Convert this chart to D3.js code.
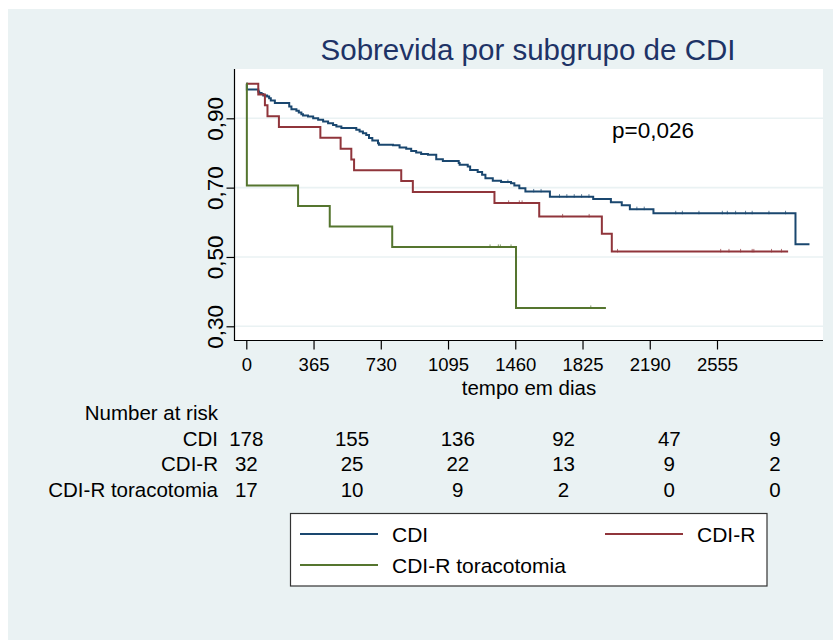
<!DOCTYPE html>
<html>
<head>
<meta charset="utf-8">
<script src="https://cdn.jsdelivr.net/npm/d3@7"></script>
<style>
  html, body { margin: 0; padding: 0; background: #ffffff; }
  svg { display: block; }
  text { font-family: "Liberation Sans", Arial, Helvetica, sans-serif; }
</style>
</head>
<body>
<div id="chart"></div>
<script>
// ---------------- DATA ----------------
const seriesNames = ["CDI", "CDI-R", "CDI-R toracotomia"];

// Kaplan-Meier steps: time (days) where survival changes, and new survival
const cdiTime = [0, 3, 65, 70, 83, 92, 113, 124, 133, 155, 233, 245, 272, 285, 299, 308, 335, 363, 390, 417, 444, 471, 489, 516, 597, 615, 633, 651, 666, 684, 715, 720, 796, 832, 868, 895, 922, 949, 986, 1031, 1067, 1153, 1158, 1202, 1215, 1256, 1280, 1298, 1338, 1383, 1437, 1455, 1482, 1515, 1648, 1883, 1979, 2038, 2082, 2210, 2981];
const cdiSurv = [1, 0.983, 0.977, 0.973, 0.970, 0.966, 0.963, 0.958, 0.951, 0.944, 0.934, 0.926, 0.922, 0.917, 0.912, 0.908, 0.905, 0.900, 0.896, 0.891, 0.886, 0.881, 0.876, 0.872, 0.867, 0.862, 0.857, 0.852, 0.843, 0.836, 0.828, 0.824, 0.822, 0.816, 0.812, 0.806, 0.801, 0.797, 0.795, 0.782, 0.777, 0.771, 0.766, 0.761, 0.751, 0.745, 0.737, 0.727, 0.720, 0.716, 0.713, 0.706, 0.698, 0.689, 0.674, 0.667, 0.658, 0.649, 0.638, 0.626, 0.537];
const cdiEnd = 3057;
const cdiCensor = [1420, 1560, 1600, 1700, 1740, 1780, 1820, 1860, 2120, 2160, 2331, 2367, 2457, 2584, 2611, 2656, 2710, 2746, 2837, 2927];

const cdirTime = [0, 65, 101, 115, 177, 402, 512, 570, 585, 841, 904, 1347, 1590, 1930, 1984];
const cdirSurv = [1, 0.969, 0.938, 0.906, 0.875, 0.844, 0.8125, 0.781, 0.750, 0.719, 0.6875, 0.656, 0.617, 0.567, 0.516];
const cdirEnd = 2941;
const cdirCensor = [1424, 1482, 1497, 1717, 1861, 2015, 2575, 2620, 2683, 2746, 2755, 2851, 2905];

const torTime = [0, 3, 281, 453, 792, 1464];
const torSurv = [1, 0.706, 0.647, 0.588, 0.529, 0.353];
const torEnd = 1952;
const torCensor = [1323, 1368, 1379, 1437, 1870];

const xTicks = [0, 365, 730, 1095, 1460, 1825, 2190, 2555];
const yTicks = [0.30, 0.50, 0.70, 0.90];
const yTickLabels = ["0,30", "0,50", "0,70", "0,90"];

const riskTimes = [0, 574, 1148, 1722, 2296, 2870];
const riskCDI = [178, 155, 136, 92, 47, 9];
const riskCDIR = [32, 25, 22, 13, 9, 2];
const riskTor = [17, 10, 9, 2, 0, 0];

const colors = ["#1a476f", "#90353b", "#55752f"];
const titleText = "Sobrevida por subgrupo de CDI";
const xLabel = "tempo em dias";
const pText = "p=0,026";

// ---------------- DRAW ----------------
const W = 833, H = 640;
const svg = d3.select("#chart").append("svg").attr("width", W).attr("height", H);

svg.append("rect").attr("x", 0).attr("y", 0).attr("width", W).attr("height", H).attr("fill", "#ffffff");
svg.append("rect").attr("x", 8).attr("y", 9).attr("width", W - 8).attr("height", H - 9).attr("fill", "#eaf2f3");

const plot = { left: 234, right: 823, top: 69, bottom: 340 };
svg.append("rect").attr("x", plot.left).attr("y", plot.top)
  .attr("width", plot.right - plot.left).attr("height", plot.bottom - plot.top).attr("fill", "#ffffff");

const x = d3.scaleLinear().domain([0, 2555]).range([246.3, 717]);
const y = d3.scaleLinear().domain([0.3, 0.9]).range([326.3, 118.3]);

// gridlines
svg.append("g").selectAll("line").data(yTicks).join("line")
  .attr("x1", plot.left).attr("x2", plot.right)
  .attr("y1", d => y(d)).attr("y2", d => y(d))
  .attr("stroke", "#eaf2f3").attr("stroke-width", 1.6);

// axes
const yAxis = d3.axisLeft(y).tickValues(yTicks).tickSize(8).tickFormat((d, i) => yTickLabels[i]);
const gy = svg.append("g").attr("transform", `translate(${plot.left + 0.5},0)`).call(yAxis);
gy.select(".domain").remove();
gy.selectAll(".tick line").attr("stroke", "#000").attr("stroke-width", 1.2);
gy.selectAll(".tick text")
  .attr("font-size", 22.5).attr("fill", "#000")
  .attr("text-anchor", "middle")
  .attr("x", 0).attr("dy", 0)
  .attr("transform", "translate(-12,0) rotate(-90)")
  .attr("y", 0);
svg.append("line").attr("x1", plot.left + 0.5).attr("x2", plot.left + 0.5)
  .attr("y1", plot.top).attr("y2", plot.bottom + 1).attr("stroke", "#000").attr("stroke-width", 1.2);

const xAxis = d3.axisBottom(x).tickValues(xTicks).tickSize(9).tickFormat(d3.format("d"));
const gx = svg.append("g").attr("transform", `translate(0,${plot.bottom + 0.5})`).call(xAxis);
gx.select(".domain").remove();
gx.selectAll(".tick line").attr("stroke", "#000").attr("stroke-width", 1.2);
gx.selectAll(".tick text").attr("font-size", 18.5).attr("fill", "#000").attr("y", 0).attr("dy", "30");
svg.append("line").attr("x1", plot.left).attr("x2", plot.right)
  .attr("y1", plot.bottom + 0.5).attr("y2", plot.bottom + 0.5).attr("stroke", "#000").attr("stroke-width", 1.2);

// curves
function stepPoints(times, surv, end) {
  const pts = times.map((t, i) => [t, surv[i]]);
  pts.push([end, surv[surv.length - 1]]);
  return pts;
}
function survAt(times, surv, t) {
  let v = surv[0];
  for (let i = 0; i < times.length; i++) { if (times[i] <= t) v = surv[i]; }
  return v;
}
const line = d3.line().x(d => x(d[0])).y(d => y(d[1])).curve(d3.curveStepAfter);
const curves = [
  { t: cdiTime, s: cdiSurv, e: cdiEnd, c: cdiCensor },
  { t: cdirTime, s: cdirSurv, e: cdirEnd, c: cdirCensor },
  { t: torTime, s: torSurv, e: torEnd, c: torCensor }
];
const gc = svg.append("g");
curves.forEach((cv, i) => {
  gc.append("path").datum(stepPoints(cv.t, cv.s, cv.e))
    .attr("d", line).attr("fill", "none")
    .attr("stroke", colors[i]).attr("stroke-width", 2).attr("stroke-linejoin", "miter");
  gc.append("g").selectAll("line").data(cv.c).join("line")
    .attr("x1", d => x(d)).attr("x2", d => x(d))
    .attr("y1", d => y(survAt(cv.t, cv.s, d)) - 2.5)
    .attr("y2", d => y(survAt(cv.t, cv.s, d)) + 1)
    .attr("stroke", colors[i]).attr("stroke-width", 1).attr("opacity", 0.7);
});

// title
svg.append("text").attr("x", 528).attr("y", 60).attr("text-anchor", "middle")
  .attr("font-size", 29.5).attr("fill", "#1e3366").text(titleText);

// p value
svg.append("text").attr("x", 612).attr("y", 138).attr("font-size", 22.5).attr("fill", "#000").text(pText);

// x label
svg.append("text").attr("x", 529).attr("y", 395).attr("text-anchor", "middle")
  .attr("font-size", 20.5).attr("fill", "#000").text(xLabel);

// risk table
const riskRows = [riskCDI, riskCDIR, riskTor];
const rowY = [446, 471, 497];
const riskFont = 20.5;
svg.append("text").attr("x", 218).attr("y", 420).attr("text-anchor", "end")
  .attr("font-size", riskFont).attr("fill", "#000").text("Number at risk");
riskRows.forEach((row, r) => {
  svg.append("text").attr("x", 218).attr("y", rowY[r]).attr("text-anchor", "end")
    .attr("font-size", riskFont).attr("fill", "#000").text(seriesNames[r]);
  svg.append("g").selectAll("text").data(row).join("text")
    .attr("x", (d, i) => x(riskTimes[i])).attr("y", rowY[r]).attr("text-anchor", "middle")
    .attr("font-size", riskFont).attr("fill", "#000").text(d => d);
});

// legend
const lg = svg.append("g");
lg.append("rect").attr("x", 290.5).attr("y", 513.5).attr("width", 476.5).attr("height", 72.5)
  .attr("fill", "#ffffff").attr("stroke", "#333").attr("stroke-width", 1.2);
const legendPos = [
  { lx1: 300, lx2: 378, tx: 392, ly: 534, ty: 542 },
  { lx1: 605, lx2: 683, tx: 697, ly: 534, ty: 542 },
  { lx1: 300, lx2: 378, tx: 392, ly: 565, ty: 573 }
];
seriesNames.forEach((name, i) => {
  const p = legendPos[i];
  lg.append("line").attr("x1", p.lx1).attr("x2", p.lx2).attr("y1", p.ly).attr("y2", p.ly)
    .attr("stroke", colors[i]).attr("stroke-width", 2);
  lg.append("text").attr("x", p.tx).attr("y", p.ty).attr("font-size", 21).attr("fill", "#000").text(name);
});
</script>
</body>
</html>
